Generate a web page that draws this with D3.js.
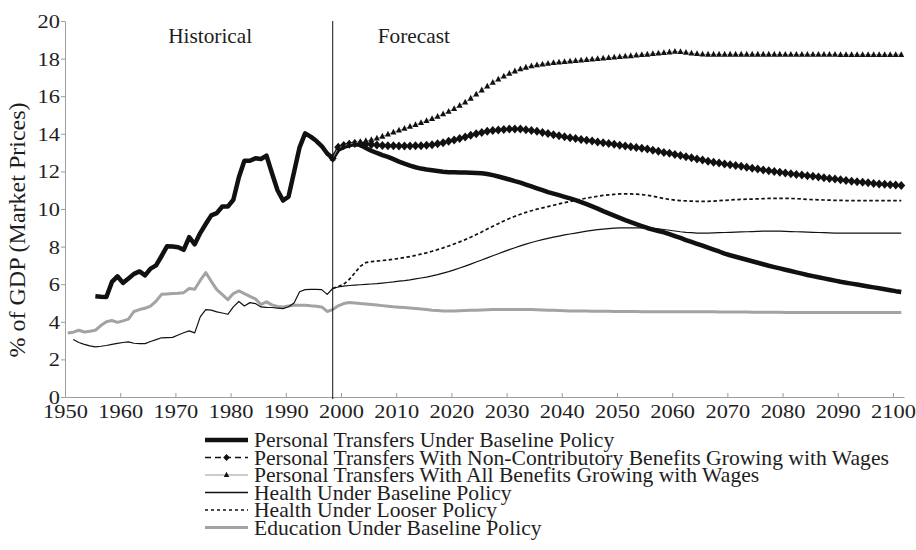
<!DOCTYPE html>
<html><head><meta charset="utf-8">
<script src="https://cdn.jsdelivr.net/npm/d3@7"></script>
<style>
body{margin:0;background:#fff}
svg{display:block}
text{font-family:"Liberation Serif","Times New Roman",Times,serif;fill:#1e1e1e}
</style>
</head><body>
<svg id="chart" width="916" height="550"></svg>
<script>
// ---------- DATA ----------
const xTickYears = [1950,1960,1970,1980,1990,2000,2010,2020,2030,2040,2050,2060,2070,2080,2090,2100];
const yTicks = [0,2,4,6,8,10,12,14,16,18,20];
const periodLabels = ["Historical","Forecast"];
const legendLabels = [
  "Personal Transfers Under Baseline Policy",
  "Personal Transfers With Non-Contributory Benefits Growing with Wages",
  "Personal Transfers With All Benefits Growing with Wages",
  "Health Under Baseline Policy",
  "Health Under Looser Policy",
  "Education Under Baseline Policy"
];
const forecastBoundary = 1998.5;

// Personal transfers, baseline (1955-2101)
const ptBaselineStart = 1955;
const ptBaseline = [
  5.36,5.33,5.32,6.12,6.42,
  6.07,6.30,6.55,6.68,6.47,6.83,7.00,7.50,8.02,8.00,
  7.97,7.83,8.50,8.12,8.72,9.20,9.66,9.78,10.13,10.13,
  10.49,11.69,12.57,12.57,12.70,12.66,12.84,11.90,11.00,10.45,
  10.66,11.97,13.28,14.02,13.85,13.63,13.35,12.95,12.70,13.15,
  13.30,13.40,13.45,13.40,13.25,13.10,12.98,12.87,12.77,12.65,
  12.52,12.41,12.31,12.22,12.15,12.10,12.06,12.02,11.98,11.96,
  11.95,11.94,11.94,11.93,11.92,11.90,11.86,11.80,11.73,11.65,
  11.57,11.48,11.40,11.30,11.20,11.10,11.00,10.90,10.82,10.74,
  10.65,10.56,10.47,10.37,10.26,10.14,10.02,9.89,9.77,9.65,
  9.53,9.41,9.30,9.19,9.09,8.99,8.90,8.83,8.76,8.66,
  8.56,8.46,8.35,8.25,8.15,8.05,7.94,7.84,7.74,7.63,
  7.54,7.46,7.38,7.30,7.22,7.14,7.06,6.98,6.91,6.84,
  6.77,6.70,6.63,6.56,6.49,6.43,6.37,6.31,6.25,6.19,
  6.13,6.08,6.03,5.98,5.93,5.88,5.83,5.78,5.73,5.68,
  5.63,5.59
];

// Personal transfers, non-contributory benefits growing with wages (1998-2101)
const ptNonContribStart = 1998;
const ptNonContrib = [
  12.70,13.28,
  13.38,13.44,13.48,13.48,13.46,13.43,13.40,13.38,13.37,13.36,
  13.35,13.35,13.35,13.36,13.37,13.39,13.42,13.47,13.53,13.60,
  13.67,13.75,13.83,13.92,14.00,14.07,14.13,14.17,14.20,14.23,
  14.25,14.26,14.25,14.22,14.18,14.13,14.07,14.01,13.95,13.89,
  13.84,13.79,13.75,13.70,13.66,13.62,13.57,13.52,13.48,13.44,
  13.39,13.35,13.31,13.27,13.23,13.19,13.13,13.07,13.01,12.96,
  12.90,12.84,12.78,12.72,12.66,12.60,12.54,12.49,12.45,12.40,
  12.36,12.31,12.27,12.22,12.17,12.13,12.08,12.04,11.99,11.95,
  11.91,11.88,11.84,11.81,11.77,11.74,11.70,11.66,11.62,11.59,
  11.55,11.51,11.48,11.45,11.42,11.39,11.36,11.33,11.31,11.29,
  11.27,11.25
];

// Personal transfers, all benefits growing with wages (1998-2101)
const ptAllStart = 1998;
const ptAll = [
  12.70,13.25,
  13.36,13.45,13.52,13.57,13.62,13.68,13.76,13.86,13.97,14.08,
  14.18,14.28,14.38,14.48,14.58,14.69,14.80,14.92,15.05,15.18,
  15.33,15.50,15.67,15.88,16.10,16.32,16.52,16.72,16.90,17.06,
  17.20,17.33,17.44,17.53,17.60,17.66,17.70,17.74,17.77,17.80,
  17.83,17.86,17.88,17.91,17.94,17.96,17.99,18.01,18.04,18.07,
  18.09,18.12,18.14,18.17,18.20,18.22,18.25,18.28,18.31,18.34,
  18.37,18.36,18.32,18.28,18.25,18.23,18.22,18.22,18.22,18.22,
  18.22,18.22,18.22,18.22,18.22,18.22,18.22,18.22,18.22,18.22,
  18.21,18.21,18.21,18.21,18.21,18.21,18.21,18.21,18.21,18.21,
  18.20,18.20,18.20,18.20,18.20,18.20,18.20,18.20,18.20,18.20,
  18.20,18.20
];

// Health, baseline (1951-2101)
const healthBaseStart = 1951;
const healthBase = [
  3.06,2.90,2.80,2.72,2.67,2.70,2.74,2.80,2.85,
  2.90,2.93,2.86,2.84,2.84,2.95,3.05,3.15,3.16,3.17,
  3.30,3.42,3.52,3.41,4.26,4.65,4.62,4.53,4.47,4.40,
  4.79,5.08,4.84,5.02,4.97,4.79,4.77,4.76,4.73,4.70,
  4.80,5.00,5.60,5.71,5.72,5.72,5.71,5.46,5.77,5.85,
  5.90,5.93,5.95,5.97,5.99,6.01,6.03,6.06,6.09,6.12,
  6.16,6.19,6.23,6.28,6.33,6.38,6.44,6.51,6.59,6.67,
  6.76,6.86,6.96,7.07,7.18,7.29,7.40,7.51,7.62,7.73,
  7.84,7.94,8.04,8.13,8.22,8.30,8.37,8.44,8.50,8.56,
  8.62,8.67,8.72,8.77,8.82,8.86,8.90,8.93,8.96,8.98,
  9.00,9.00,9.00,9.00,9.00,9.00,8.98,8.95,8.91,8.87,
  8.83,8.79,8.76,8.74,8.72,8.72,8.72,8.73,8.74,8.75,
  8.76,8.77,8.78,8.79,8.80,8.81,8.82,8.82,8.82,8.82,
  8.81,8.80,8.79,8.78,8.77,8.76,8.75,8.74,8.73,8.72,
  8.72,8.72,8.72,8.72,8.72,8.72,8.72,8.72,8.72,8.72,
  8.72,8.72
];

// Health, looser policy (1998-2101)
const healthLooseStart = 1998;
const healthLoose = [
  5.77,5.88,
  6.00,6.25,6.60,6.95,7.15,7.20,7.23,7.26,7.29,7.33,
  7.37,7.42,7.47,7.53,7.60,7.67,7.75,7.84,7.93,8.03,
  8.14,8.25,8.37,8.50,8.64,8.78,8.93,9.08,9.22,9.36,
  9.49,9.61,9.72,9.82,9.91,9.99,10.06,10.13,10.20,10.27,
  10.34,10.40,10.46,10.52,10.58,10.63,10.68,10.72,10.75,10.78,
  10.80,10.80,10.80,10.79,10.77,10.73,10.68,10.62,10.56,10.51,
  10.47,10.45,10.43,10.42,10.41,10.41,10.41,10.42,10.44,10.46,
  10.48,10.50,10.51,10.52,10.53,10.54,10.55,10.56,10.57,10.57,
  10.57,10.56,10.55,10.53,10.51,10.50,10.49,10.48,10.47,10.46,
  10.46,10.45,10.45,10.45,10.45,10.45,10.45,10.45,10.45,10.45,
  10.45,10.45
];

// Education, baseline (1950-2101)
const educationStart = 1950;
const education = [
  3.41,3.45,3.55,3.46,3.50,3.55,3.80,4.00,4.07,3.97,
  4.05,4.14,4.55,4.65,4.72,4.83,5.10,5.46,5.48,5.50,
  5.52,5.55,5.77,5.73,6.20,6.62,6.15,5.71,5.45,5.18,
  5.50,5.64,5.50,5.35,5.22,4.92,5.06,4.90,4.82,4.79,
  4.84,4.88,4.88,4.88,4.85,4.83,4.79,4.55,4.65,4.85,
  4.97,5.03,5.00,4.97,4.95,4.92,4.89,4.86,4.83,4.80,
  4.78,4.76,4.74,4.71,4.68,4.65,4.62,4.60,4.58,4.58,
  4.58,4.59,4.60,4.61,4.62,4.63,4.64,4.65,4.65,4.66,
  4.66,4.66,4.66,4.65,4.65,4.64,4.63,4.62,4.61,4.60,
  4.59,4.58,4.58,4.57,4.57,4.56,4.56,4.56,4.56,4.55,
  4.55,4.55,4.55,4.55,4.54,4.54,4.54,4.54,4.54,4.54,
  4.54,4.54,4.53,4.53,4.53,4.53,4.53,4.53,4.52,4.52,
  4.52,4.52,4.52,4.52,4.51,4.51,4.51,4.51,4.51,4.51,
  4.50,4.50,4.50,4.50,4.50,4.50,4.50,4.50,4.49,4.49,
  4.49,4.49,4.49,4.49,4.49,4.49,4.49,4.49,4.49,4.49,
  4.49,4.49
];

// ---------- CHART ----------
const serif = "Liberation Serif, Times New Roman, serif";
const svg = d3.select("#chart");
const x = d3.scaleLinear().domain([1950, 2102]).range([65, 904]);
const y = d3.scaleLinear().domain([0, 20]).range([397, 21]);
const mid = 0.5; // annual values sit mid-year
const toPts = (start, vals) => vals.map((v, i) => ({year: start + i, value: v}));
const line = d3.line().x(d => x(d.year + mid)).y(d => y(d.value));

const axisColor = "#9d9d9d";
const tickScale = 1.18;

// Y axis
const gy = svg.append("g").attr("transform", `translate(${x(1950)},0)`)
  .call(d3.axisLeft(y).tickValues(yTicks).tickSizeInner(4).tickSizeOuter(0).tickFormat(d3.format("d")))
  .attr("font-family", serif).attr("font-size", 19);
gy.select(".domain").attr("stroke", axisColor);
gy.selectAll(".tick line").attr("stroke", axisColor);
gy.selectAll(".tick text")
  .attr("x", -5 / tickScale).attr("dy", "0.34em")
  .attr("transform", `scale(${tickScale},1)`)
  .attr("fill", "#1e1e1e");

// X axis
const gx = svg.append("g").attr("transform", `translate(0,${y(0)})`)
  .call(d3.axisBottom(x).tickValues(xTickYears).tickSizeInner(-4).tickSizeOuter(0).tickFormat(d3.format("d")))
  .attr("font-family", serif).attr("font-size", 19);
gx.select(".domain").attr("stroke", axisColor);
gx.selectAll(".tick line").attr("stroke", axisColor);
gx.selectAll(".tick text")
  .attr("y", 21).attr("dy", 0)
  .attr("transform", `scale(${tickScale},1)`)
  .attr("fill", "#1e1e1e");

// Y axis title
svg.append("text")
  .attr("transform", `translate(25,${(y(0)+y(20))/2 + 21}) rotate(-90)`)
  .attr("text-anchor", "middle")
  .style("font-size", "24px")
  .text("% of GDP (Market Prices)");

// Series
const plot = svg.append("g");
plot.append("path").datum(toPts(educationStart, education))
  .attr("d", line).attr("fill", "none").attr("stroke", "#a3a3a3").attr("stroke-width", 3)
  .attr("stroke-linejoin", "round");
plot.append("path").datum(toPts(healthBaseStart, healthBase))
  .attr("d", line).attr("fill", "none").attr("stroke", "#111").attr("stroke-width", 1.2)
  .attr("stroke-linejoin", "round");
plot.append("path").datum(toPts(healthLooseStart, healthLoose))
  .attr("d", line).attr("fill", "none").attr("stroke", "#111").attr("stroke-width", 1.7)
  .attr("stroke-dasharray", "3.5,2.5");
plot.append("path").datum(toPts(ptBaselineStart, ptBaseline))
  .attr("d", line).attr("fill", "none").attr("stroke", "#111").attr("stroke-width", 4.5)
  .attr("stroke-linejoin", "round");

const diamond = "M0,-4.5L4,0L0,4.5L-4,0Z";
const triangle = "M0,-3.6L3,2.2L-3,2.2Z";
const legendDiamond = "M0,-3.5L3.3,0L0,3.5L-3.3,0Z";
const legendTriangle = "M0,-3.2L2.7,2L-2.7,2Z";

const ncPts = toPts(ptNonContribStart, ptNonContrib);
plot.append("path").datum(ncPts)
  .attr("d", line).attr("fill", "none").attr("stroke", "#111").attr("stroke-width", 1.5)
  .attr("stroke-dasharray", "6,4");
plot.append("g").selectAll("path").data(ncPts).join("path")
  .attr("d", diamond).attr("fill", "#111")
  .attr("transform", d => `translate(${x(d.year + mid)},${y(d.value)})`);

const allPts = toPts(ptAllStart, ptAll);
plot.append("path").datum(allPts)
  .attr("d", line).attr("fill", "none").attr("stroke", "#999").attr("stroke-width", 1);
plot.append("g").selectAll("path").data(allPts).join("path")
  .attr("d", triangle).attr("fill", "#111")
  .attr("transform", d => `translate(${x(d.year + mid)},${y(d.value)})`);

// Historical / Forecast divider
svg.append("line")
  .attr("x1", x(forecastBoundary)).attr("x2", x(forecastBoundary))
  .attr("y1", y(20)).attr("y2", y(0) + 2)
  .attr("stroke", "#111").attr("stroke-width", 1);

// Period labels
const periodX = [1976.3, 2013.2];
svg.selectAll("text.period").data(periodLabels).join("text")
  .attr("class", "period")
  .attr("text-anchor", "middle")
  .attr("transform", (d, i) => `translate(${x(periodX[i])},43) scale(1.065,1)`)
  .style("font-size", "20px")
  .text(d => d);

// Legend
const legend = svg.append("g").attr("transform", "translate(205,440)");
const rowH = 17.5;
const rows = legend.selectAll("g").data(legendLabels).join("g")
  .attr("transform", (d, i) => `translate(0,${i * rowH})`);
rows.append("text")
  .attr("transform", "translate(49,7) scale(1.06,1)")
  .style("font-size", "20.4px")
  .text(d => d);
const lw = 43;
const styles = [
  {stroke: "#111", w: 4.5, dash: null},
  {stroke: "#111", w: 1.5, dash: "6,4", marker: legendDiamond},
  {stroke: "#999", w: 1, dash: null, marker: legendTriangle},
  {stroke: "#111", w: 1.3, dash: null},
  {stroke: "#111", w: 1.6, dash: "3,3"},
  {stroke: "#a3a3a3", w: 3, dash: null}
];
rows.each(function(d, i) {
  const g = d3.select(this);
  const s = styles[i];
  g.append("line").attr("x1", 0).attr("x2", lw).attr("y1", 0).attr("y2", 0)
    .attr("stroke", s.stroke).attr("stroke-width", s.w)
    .attr("stroke-dasharray", s.dash);
  if (s.marker) g.append("path").attr("d", s.marker).attr("fill", "#111")
    .attr("transform", `translate(${lw / 2},0)`);
});
</script>
</body></html>
